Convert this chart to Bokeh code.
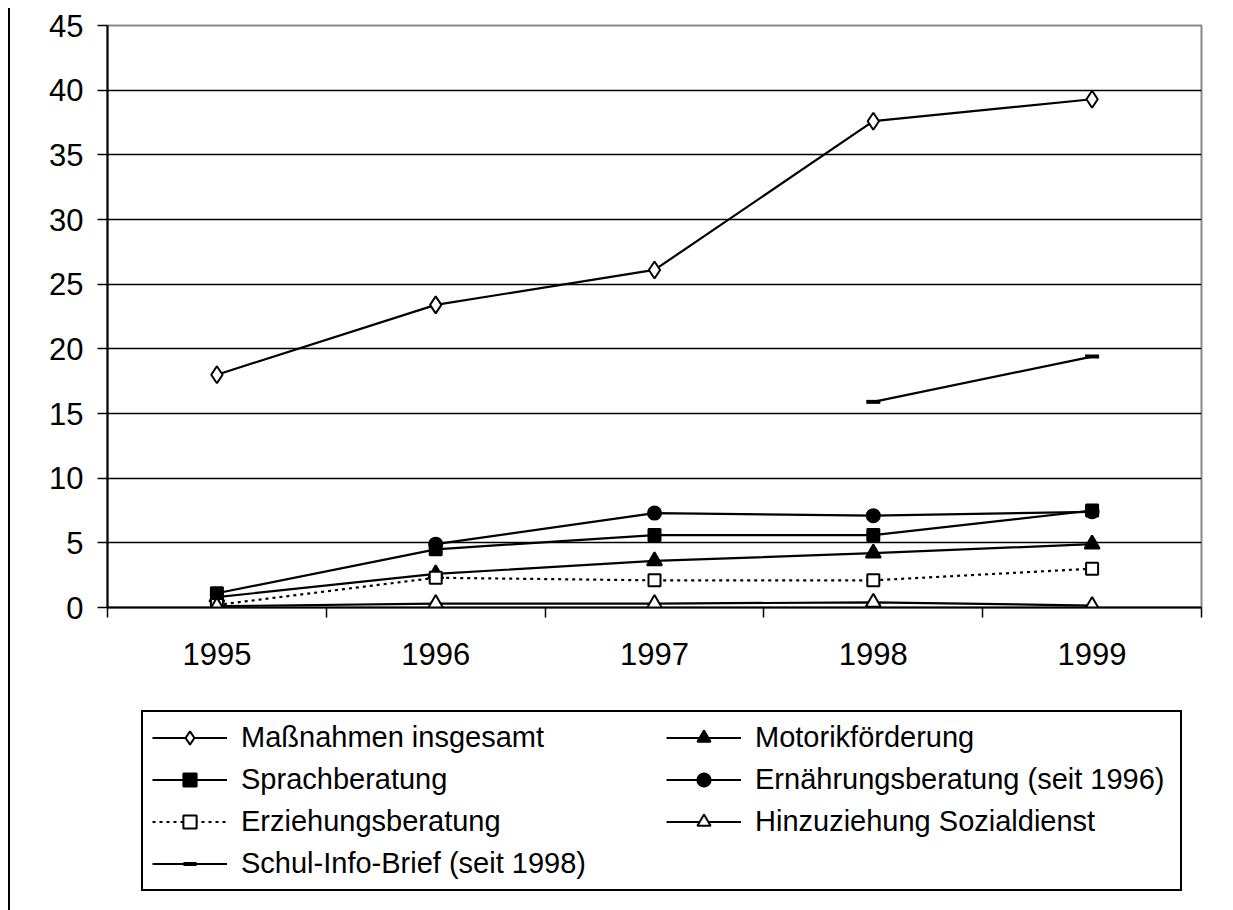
import math
from bokeh.plotting import figure
from bokeh.layouts import column
from bokeh.models import Legend, LegendItem, FixedTicker, Range1d
from bokeh.embed import file_html
from bokeh.resources import INLINE

years = [1995, 1996, 1997, 1998, 1999]
nan = float("nan")
massnahmen = [18.0, 23.4, 26.1, 37.6, 39.3]
motorik = [0.8, 2.6, 3.6, 4.2, 4.9]
sprach = [1.1, 4.5, 5.6, 5.6, 7.5]
ernaehrung = [nan, 4.9, 7.3, 7.1, 7.4]
erziehung = [0.2, 2.3, 2.1, 2.1, 3.0]
hinzu = [0.1, 0.3, 0.3, 0.4, 0.15]
schul = [nan, nan, nan, 15.9, 19.4]

labels = ["Maßnahmen insgesamt", "Motorikförderung", "Sprachberatung",
          "Ernährungsberatung (seit 1996)", "Erziehungsberatung",
          "Hinzuziehung Sozialdienst", "Schul-Info-Brief (seit 1998)"]

y_ticks = [0, 5, 10, 15, 20, 25, 30, 35, 40, 45]

FONT = "Liberation Sans"
W = 1213
H1 = 690
H2 = 212

p = figure(width=W, height=H1, output_backend="svg", toolbar_location=None,
           x_range=Range1d(1994.5, 1999.5), y_range=Range1d(0, 45),
           min_border_left=97, min_border_right=22, min_border_top=17, min_border_bottom=91)
p.outline_line_color = "#888888"
p.outline_line_width = 2

p.xgrid.grid_line_color = None
p.ygrid.grid_line_color = "black"
p.ygrid.grid_line_width = 1.5
p.ygrid.ticker = FixedTicker(ticks=y_ticks[:-1])

p.yaxis.ticker = FixedTicker(ticks=y_ticks)
p.yaxis.axis_line_color = "black"
p.yaxis.axis_line_width = 2
p.yaxis.major_tick_out = 10
p.yaxis.major_tick_in = 0
p.yaxis.major_tick_line_width = 1.5
p.yaxis.minor_tick_line_color = None
p.yaxis.major_label_standoff = 14
p.yaxis.major_label_text_font = FONT
p.yaxis.major_label_text_font_size = "31px"
p.yaxis.major_label_text_color = "black"

boundaries = [y + 0.5 for y in [1994] + years]
p.xaxis.ticker = FixedTicker(ticks=years, minor_ticks=boundaries)
p.xaxis.axis_line_color = "black"
p.xaxis.axis_line_width = 2
p.xaxis.major_tick_out = 0
p.xaxis.major_tick_in = 0
p.xaxis.minor_tick_out = 10
p.xaxis.minor_tick_in = 0
p.xaxis.minor_tick_line_color = "black"
p.xaxis.minor_tick_line_width = 1.5
p.xaxis.major_label_standoff = 25
p.xaxis.major_label_text_font = FONT
p.xaxis.major_label_text_font_size = "31px"
p.xaxis.major_label_text_color = "black"

p2 = figure(width=W, height=H2, output_backend="svg", toolbar_location=None,
            x_axis_location=None, y_axis_location=None,
            x_range=Range1d(0, 1), y_range=Range1d(0, 1),
            min_border=0, min_border_left=0, min_border_right=0,
            min_border_top=0, min_border_bottom=0)
p2.outline_line_color = None
p2.grid.grid_line_color = None

LW = 2.2

def series(fig, vals, xs, marker, fill, size, dash="solid", mlw=2):
    l = fig.line(xs, vals, line_color="black", line_width=LW, line_dash=dash)
    s = fig.scatter(xs, vals, marker=marker, size=size, line_color="black",
                    fill_color=fill, line_width=mlw)
    return [l, s]

styles = [
    (massnahmen, "diamond", "white", 17, "solid", 2),
    (motorik, "triangle", "black", 15, "solid", 2),
    (ernaehrung, "circle", "black", 13, "solid", 2),
    (sprach, "square", "black", 12, "solid", 2),
    (erziehung, "square", "white", 12, "3 4", 2),
    (hinzu, "triangle", "white", 15, "solid", 2),
    (schul, "dash", "black", 14, "solid", 4),
]
for vals, mk, fill, size, dash, mlw in styles:
    series(p, vals, years, mk, fill, size, dash, mlw)

def d(i):
    vals, mk, fill, size, dash, mlw = styles[i]
    return series(p2, [nan], [nan], mk, fill, size, dash, mlw)

r_mass = d(0); r_mot = d(1); r_ern = d(2); r_spr = d(3); r_erz = d(4); r_hin = d(5); r_sch = d(6)

items = [
    LegendItem(label=labels[0], renderers=r_mass),
    LegendItem(label=labels[2], renderers=r_spr),
    LegendItem(label=labels[4], renderers=r_erz),
    LegendItem(label=labels[6], renderers=r_sch),
    LegendItem(label=labels[1], renderers=r_mot),
    LegendItem(label=labels[3], renderers=r_ern),
    LegendItem(label=labels[5], renderers=r_hin),
]
legend = Legend(items=items, location=(34, 19), nrows=4, orientation="vertical",
                glyph_width=75, glyph_height=33, spacing=9, padding=9,
                label_standoff=14, label_width=416,
                label_text_font=FONT, label_text_font_size="29px", label_text_color="black",
                border_line_color="black", border_line_width=2, border_line_alpha=1.0,
                background_fill_color="white", background_fill_alpha=1.0)
p2.add_layout(legend, "center")

lay = column(p, p2, spacing=0)
lay.styles = {"border-left": "2px solid black", "margin-left": "8px", "margin-top": "8px"}

open("out.html", "w").write(file_html(lay, INLINE))
